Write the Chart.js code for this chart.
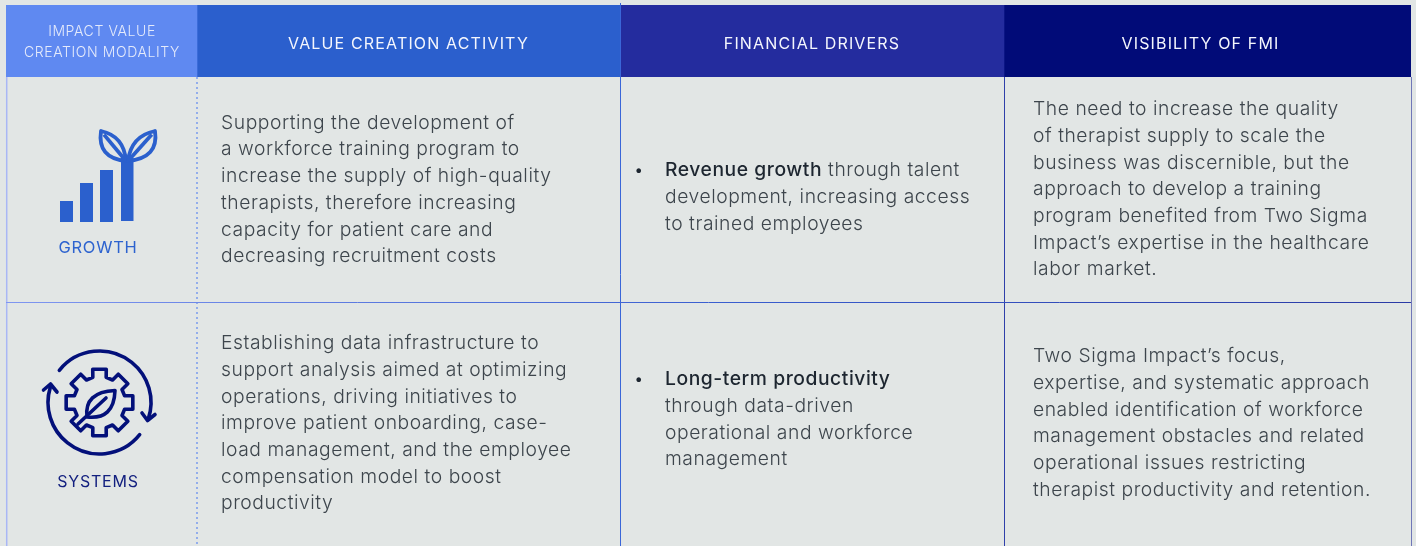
<!DOCTYPE html>
<html>
<head>
<meta charset="utf-8">
<title>Impact value creation</title>
<script src="https://cdn.jsdelivr.net/npm/chart.js@4"></script>
<style>
  html, body { margin: 0; padding: 0; background: #e2e6e5; }
  canvas { display: block; }
</style>
</head>
<body>
<canvas id="tableChart" width="1416" height="546"></canvas>
<script>
// table content
const headerBand = ['header'];
const columnWidths = [191, 423, 384, 407];
const headerColors = ['#5f89f1', '#2b5fcd', '#242c9e', '#010b78'];
const headerLabels = [
  ['IMPACT VALUE', 'CREATION MODALITY'],
  ['VALUE CREATION ACTIVITY'],
  ['FINANCIAL DRIVERS'],
  ['VISIBILITY OF FMI']
];
const modalities = ['GROWTH', 'SYSTEMS'];
const activityText = [
  ['Supporting the development of', 'a workforce training program to', 'increase the supply of high-quality',
   'therapists, therefore increasing', 'capacity for patient care and', 'decreasing recruitment costs'],
  ['Establishing data infrastructure to', 'support analysis aimed at optimizing', 'operations, driving initiatives to',
   'improve patient onboarding, case-', 'load management, and the employee', 'compensation model to boost', 'productivity']
];
const driverBold = ['Revenue growth', 'Long-term productivity'];
const driverText = [
  [' through talent', 'development, increasing access', 'to trained employees'],
  ['', 'through data-driven', 'operational and workforce', 'management']
];
const visibilityText = [
  ['The need to increase the quality', 'of therapist supply to scale the', 'business was discernible, but the',
   'approach to develop a training', 'program benefited from Two Sigma', 'Impact\u2019s expertise in the healthcare', 'labor market.'],
  ['Two Sigma Impact\u2019s focus,', 'expertise, and systematic approach', 'enabled identification of workforce',
   'management obstacles and related', 'operational issues restricting', 'therapist productivity and retention.']
];

const FONT = 'Inter, "Open Sans", sans-serif';
const BODY_COLOR = '#3d454c';
const BODY_FONT = '300 19.3px ' + FONT;
const BODY_SPACING = 0.55;
const LINE_H = 26.7;

function putText(ctx, str, x, y, font, color, spacing, align) {
  ctx.font = font;
  ctx.fillStyle = color;
  ctx.letterSpacing = spacing + 'px';
  ctx.textAlign = align || 'left';
  ctx.textBaseline = 'middle';
  ctx.fillText(str, x, y);
}

function drawLines(ctx, lines, x, firstY) {
  lines.forEach((l, i) => {
    putText(ctx, l, x, firstY + i * LINE_H, BODY_FONT, BODY_COLOR, BODY_SPACING);
  });
}

function vline(ctx, x, y0, y1, color, w, dash) {
  ctx.save();
  ctx.strokeStyle = color;
  ctx.lineWidth = w;
  if (dash) ctx.setLineDash(dash);
  ctx.beginPath();
  ctx.moveTo(x, y0);
  ctx.lineTo(x, y1);
  ctx.stroke();
  ctx.restore();
}

function leaf(ctx, bx, by, tx, ty, c1x, c1y, c2x, c2y) {
  ctx.beginPath();
  ctx.moveTo(bx, by);
  ctx.quadraticCurveTo(c1x, c1y, tx, ty);
  ctx.quadraticCurveTo(c2x, c2y, bx, by);
  ctx.closePath();
  ctx.stroke();
  ctx.beginPath();
  ctx.moveTo(bx, by);
  ctx.lineTo(tx + (bx - tx) * 0.12, ty + (by - ty) * 0.12);
  ctx.stroke();
}

function growthIcon(ctx) {
  ctx.save();
  ctx.fillStyle = '#2b60cd';
  ctx.strokeStyle = '#2b60cd';
  ctx.fillRect(60, 201, 13, 21);
  ctx.fillRect(80, 183, 13, 39);
  ctx.fillRect(100, 170, 13, 52);
  ctx.fillRect(121, 158, 12.5, 63);
  ctx.lineWidth = 3.8;
  ctx.lineJoin = 'round';
  leaf(ctx, 126, 161, 101, 131, 97, 158, 124, 136);
  leaf(ctx, 128, 161, 155, 131, 159, 158, 131, 136);
  ctx.restore();
}

function systemsIcon(ctx) {
  const cx = 99.5, cy = 402.5;
  ctx.save();
  ctx.strokeStyle = '#03107a';
  ctx.lineWidth = 3.6;
  ctx.lineCap = 'round';
  ctx.lineJoin = 'round';
  // circular arrows
  ctx.beginPath();
  ctx.arc(cx, cy, 51.5, Math.atan2(370 - cy, 59 - cx), Math.atan2(419 - cy, 148 - cx));
  ctx.stroke();
  ctx.beginPath();
  ctx.arc(cx, cy, 51.5, Math.atan2(435 - cy, 140 - cx), Math.atan2(387 - cy, 49 - cx));
  ctx.stroke();
  ctx.beginPath();
  ctx.moveTo(142, 413); ctx.lineTo(147.5, 420.5); ctx.lineTo(155, 414.5);
  ctx.moveTo(43.5, 390); ctx.lineTo(50.5, 384); ctx.lineTo(57, 392);
  ctx.stroke();
  // gear, 8 teeth
  ctx.beginPath();
  const teeth = 8, rOut = 34, rIn = 26;
  for (let i = 0; i < teeth; i++) {
    const a = -Math.PI / 2 + i * 2 * Math.PI / teeth;
    const half = 0.2, inner = 0.26;
    const pts = [
      [rIn, a - inner], [rOut, a - half], [rOut, a + half], [rIn, a + inner]
    ];
    pts.forEach((p, k) => {
      const px = cx + p[0] * Math.cos(p[1]);
      const py = cy + p[0] * Math.sin(p[1]);
      if (i === 0 && k === 0) ctx.moveTo(px, py); else ctx.lineTo(px, py);
    });
  }
  ctx.closePath();
  ctx.stroke();
  // leaf in the gear
  ctx.beginPath();
  ctx.moveTo(87, 417);
  ctx.quadraticCurveTo(84, 392, 115, 390.5);
  ctx.quadraticCurveTo(114, 420, 87, 417);
  ctx.closePath();
  ctx.stroke();
  ctx.beginPath();
  ctx.moveTo(78, 424);
  ctx.lineTo(106, 398);
  ctx.stroke();
  ctx.restore();
}

const tablePlugin = {
  id: 'tableBody',
  afterDraw: (chart) => {
    const ctx = chart.ctx;
    const xs = chart.scales.x;
    const area = chart.chartArea;
    const bottom = chart.height;
    let edges = [xs.getPixelForValue(0)];
    let sum = 0;
    columnWidths.forEach(w => { sum += w; edges.push(xs.getPixelForValue(sum)); });

    ctx.save();
    // grid
    vline(ctx, edges[0] + 0.7, area.bottom, bottom, '#a9b7f5', 1.5);
    vline(ctx, edges[1], area.bottom, bottom, '#5f89ee', 1.2, [2, 3]);
    vline(ctx, edges[2] + 0.5, 3, bottom, '#3a66d8', 1);
    vline(ctx, edges[3] + 0.5, area.bottom, bottom, '#2f40aa', 1);
    vline(ctx, edges[4] + 0.5, area.bottom, bottom, '#7077b8', 1);
    const grad = ctx.createLinearGradient(edges[0], 0, edges[4], 0);
    grad.addColorStop(0, '#7f96f0');
    grad.addColorStop(0.5, '#3a5fd0');
    grad.addColorStop(1, '#2a3aa5');
    ctx.strokeStyle = grad;
    ctx.lineWidth = 1;
    ctx.beginPath();
    ctx.moveTo(edges[0], 302.5);
    ctx.lineTo(edges[4], 302.5);
    ctx.stroke();

    // header labels, the last one sits left of its column centre in the source
    const headerShift = [0.5, 0, 0, -7];
    headerLabels.forEach((lines, i) => {
      const mid = (edges[i] + edges[i + 1]) / 2 + headerShift[i];
      if (lines.length > 1) {
        lines.forEach((l, k) => {
          putText(ctx, l, mid, 32 + k * 21, '300 14px ' + FONT, '#e4eafb', 0.6, 'center');
        });
      } else {
        putText(ctx, lines[0], mid, 44, '400 16px ' + FONT, '#f4f6fd', 1.15, 'center');
      }
    });

    // modality column
    growthIcon(ctx);
    systemsIcon(ctx);
    putText(ctx, modalities[0], 98, 248, '400 16.5px ' + FONT, '#2d63cf', 0.75, 'center');
    putText(ctx, modalities[1], 98, 482, '400 16px ' + FONT, '#13207f', 0.75, 'center');

    // text columns
    drawLines(ctx, activityText[0], 221, 123);
    drawLines(ctx, activityText[1], 221, 343.5);
    drawLines(ctx, visibilityText[0], 1033, 109.5);
    drawLines(ctx, visibilityText[1], 1033, 356.5);

    const driverY = [170.5, 379.5];
    driverText.forEach((lines, r) => {
      const y = driverY[r];
      putText(ctx, '\u2022', 634.5, y, '400 15px ' + FONT, '#1d2630', 0);
      putText(ctx, driverBold[r], 665, y, '500 19.3px ' + FONT, '#1d2630', BODY_SPACING);
      const boldW = ctx.measureText(driverBold[r]).width;
      putText(ctx, lines[0], 665 + boldW, y, BODY_FONT, BODY_COLOR, BODY_SPACING);
      lines.slice(1).forEach((l, i) => {
        putText(ctx, l, 665, y + (i + 1) * LINE_H, BODY_FONT, BODY_COLOR, BODY_SPACING);
      });
    });
    ctx.restore();
  }
};

new Chart(document.getElementById('tableChart'), {
  type: 'bar',
  data: {
    labels: headerBand,
    datasets: columnWidths.map((w, i) => ({
      label: headerLabels[i].join(' '),
      data: [w],
      backgroundColor: headerColors[i],
      barPercentage: 1,
      categoryPercentage: 1
    }))
  },
  options: {
    indexAxis: 'y',
    responsive: false,
    animation: false,
    layout: { padding: { left: 6, right: 5, top: 5, bottom: 469 } },
    scales: {
      x: { display: false, stacked: true, min: 0, max: 1405 },
      y: { display: false, stacked: true }
    },
    plugins: { legend: { display: false }, tooltip: { enabled: false }, title: { display: false } }
  },
  plugins: [tablePlugin]
});
</script>
</body>
</html>
